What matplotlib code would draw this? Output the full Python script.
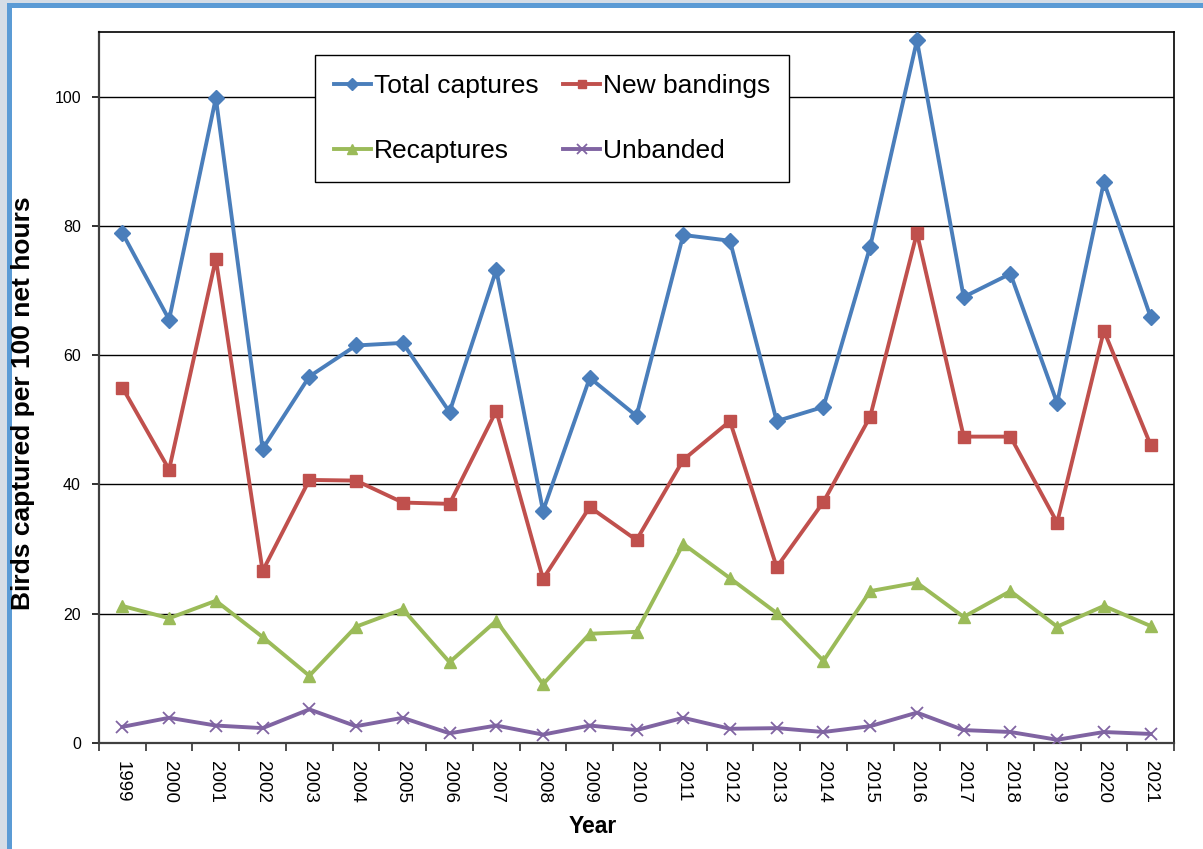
import numpy as np
import matplotlib
matplotlib.use('Agg')
import matplotlib.pyplot as plt
from matplotlib.patches import Rectangle

years = [str(y) for y in range(1999, 2022)]

total_captures = [78.9, 65.5, 99.8, 45.5, 56.7, 61.5, 61.9, 51.2, 73.2, 35.9, 56.5, 50.6,
                  78.6, 77.7, 49.8, 52.0, 76.8, 108.7, 69.0, 72.6, 52.6, 86.8, 65.9]
new_bandings = [55.0, 42.3, 74.9, 26.6, 40.7, 40.6, 37.2, 37.0, 51.4, 25.4, 36.5, 31.4,
                43.8, 49.8, 27.2, 37.3, 50.5, 78.9, 47.4, 47.4, 34.1, 63.8, 46.1]
recaptures = [21.2, 19.3, 22.0, 16.4, 10.4, 18.0, 20.7, 12.5, 18.9, 9.1, 16.9, 17.2,
              30.8, 25.5, 20.1, 12.7, 23.5, 24.8, 19.5, 23.5, 18.0, 21.2, 18.1]
unbanded = [2.5, 3.9, 2.7, 2.3, 5.2, 2.6, 3.9, 1.5, 2.7, 1.3, 2.7, 2.0,
            3.9, 2.2, 2.3, 1.7, 2.6, 4.7, 2.0, 1.7, 0.5, 1.7, 1.4]

plt.rcParams['font.family'] = ['Liberation Sans', 'DejaVu Sans']

W, H = 1203, 849
fig = plt.figure(figsize=(W / 100, H / 100), dpi=100, facecolor='#d5dde6')

# window frame: grey edge, blue border, white page
fig.patches.append(Rectangle((7 / W, 0), 1, 1 - 3 / H, transform=fig.transFigure,
                             facecolor='#5b9bd5', edgecolor='none', zorder=-2))
fig.patches.append(Rectangle((12 / W, 0), 1, 1 - 8 / H, transform=fig.transFigure,
                             facecolor='white', edgecolor='none', zorder=-1))

ax = fig.add_axes([99 / W, 1 - 743 / H, 1075 / W, 711 / H])
ax.set_facecolor('none')

x = np.arange(len(years))
lw = 2.8
ax.plot(x, total_captures, color='#4a7ebb', lw=lw, marker='D', ms=8, label='Total captures', zorder=5)
ax.plot(x, recaptures, color='#9bbb59', lw=lw, marker='^', ms=9, label='Recaptures', zorder=4)
ax.plot(x, new_bandings, color='#c0504d', lw=lw, marker='s', ms=8, label='New bandings', zorder=4)
ax.plot(x, unbanded, color='#8064a2', lw=lw, marker='x', ms=9, mew=1.3, label='Unbanded', zorder=4)

ax.set_xlim(-0.5, len(years) - 0.5)
ax.set_ylim(0, 110)
ax.set_yticks(range(0, 101, 20))
ax.yaxis.grid(True, color='black', lw=1.0)
ax.set_axisbelow(True)

ax.set_xticks(x)
ax.set_xticklabels(years, rotation=-90, fontsize=13.5)
ax.set_xticks(np.arange(-0.5, len(years)), minor=True)
ax.tick_params(axis='x', which='major', length=0, pad=13)
ax.tick_params(axis='x', which='minor', length=6, width=1.3, color='#404040', direction='out')
ax.tick_params(axis='y', length=5, width=1.3, color='#202020', labelsize=11.5, pad=8)

for side in ['top', 'right']:
    ax.spines[side].set_color('black')
    ax.spines[side].set_linewidth(1.2)
for side in ['left', 'bottom']:
    ax.spines[side].set_color('#404040')
    ax.spines[side].set_linewidth(1.6)

ax.set_ylabel('Birds captured per 100 net hours', fontsize=19, fontweight='bold')
ax.yaxis.set_label_coords(-0.0595, 0.478)
ax.set_xlabel('Year', fontsize=16.5, fontweight='bold')
ax.xaxis.set_label_coords(0.4595, -0.101)
ax.xaxis.label.set_va('top')

leg = ax.legend(ncol=2, loc='upper left', bbox_to_anchor=(315 / W, 1 - 55 / H),
                bbox_transform=fig.transFigure, borderaxespad=0, fontsize=19,
                handlelength=1.4, handletextpad=0.1, columnspacing=0.95,
                labelspacing=1.55, borderpad=0.72, markerscale=0.75,
                fancybox=False, framealpha=1)
leg.get_frame().set_edgecolor('black')
leg.get_frame().set_linewidth(1.0)

fig.savefig('out.png', dpi=100, facecolor=fig.get_facecolor())
